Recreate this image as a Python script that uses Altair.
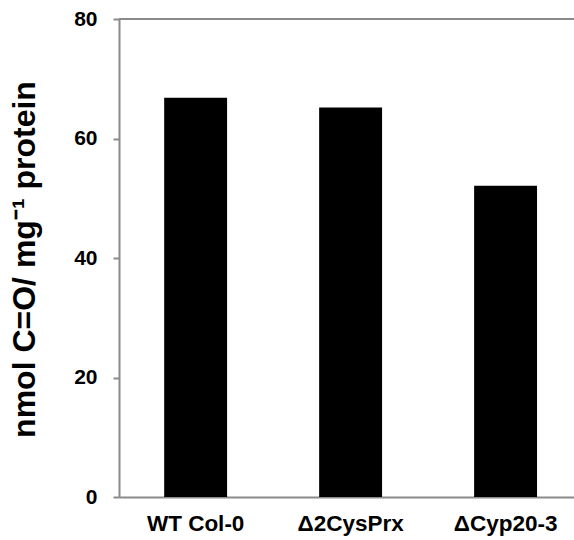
import altair as alt
import pandas as pd

categories = ["WT Col-0", "Δ2CysPrx", "ΔCyp20-3"]
values = [66.8, 65.2, 52.1]
y_ticks = [0, 20, 40, 60, 80]

df = pd.DataFrame({"genotype": categories, "value": values})

FONT = "Liberation Sans"
GREY = "#8a8a8a"

bars = alt.Chart(df).mark_bar(color="black").encode(
    x=alt.X(
        "genotype:N",
        sort=categories,
        scale=alt.Scale(paddingInner=0.594, paddingOuter=0.265, align=0.55),
        axis=alt.Axis(
            title=None,
            labelAngle=0,
            ticks=False,
            labelFont=FONT,
            labelFontSize=22.5,
            labelFontWeight="bold",
            labelColor="black",
            labelPadding=15,
            domainColor=GREY,
            domainWidth=2,
        ),
    ),
    y=alt.Y(
        "value:Q",
        scale=alt.Scale(domain=[0, 80], nice=False),
        axis=alt.Axis(
            values=y_ticks,
            grid=False,
            title="nmol C=O/ mg⁻¹ protein",
            titleFont=FONT,
            titleFontSize=32,
            titleFontWeight="bold",
            titleColor="black",
            titleAngle=270,
            titleAlign="center",
            titleBaseline="middle",
            titleX=-95,
            titleY=240,
            labelFont=FONT,
            labelFontSize=21,
            labelFontWeight="bold",
            labelColor="black",
            labelPadding=16,
            tickSize=6,
            tickColor=GREY,
            tickWidth=2,
            domainColor=GREY,
            domainWidth=2,
        ),
    ),
)

top_line = alt.Chart(df).mark_rule(color=GREY, strokeWidth=2).encode(
    y=alt.datum(80)
)

chart = alt.layer(bars, top_line).properties(
    width=455,
    height=478,
    autosize=alt.AutoSizeParams(type="none"),
    padding={"left": 119, "top": 19, "right": 0, "bottom": 43},
).configure_view(stroke=None).configure(background="white")

chart.save("out.html", embed_options={"renderer": "svg", "actions": False})
